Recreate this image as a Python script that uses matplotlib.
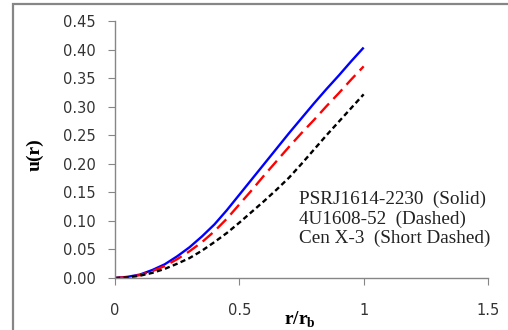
import numpy as np
import matplotlib
matplotlib.use('Agg')
import matplotlib.pyplot as plt
from matplotlib.patches import Rectangle

# values
r = [0.0, 0.05, 0.1, 0.15, 0.2, 0.25, 0.3, 0.35, 0.4, 0.45, 0.5,
     0.55, 0.6, 0.65, 0.7, 0.75, 0.8, 0.85, 0.9, 0.95, 1.0]
u_psr = [0.0, 0.002, 0.006, 0.014, 0.024, 0.038, 0.054, 0.073, 0.094, 0.119, 0.146,
         0.173, 0.200, 0.227, 0.254, 0.280, 0.306, 0.331, 0.355, 0.380, 0.404]
u_4u = [0.0, 0.0015, 0.005, 0.012, 0.021, 0.033, 0.047, 0.063, 0.082, 0.104, 0.129,
        0.154, 0.180, 0.205, 0.230, 0.254, 0.277, 0.301, 0.324, 0.348, 0.371]
u_cen = [0.0, 0.001, 0.004, 0.009, 0.016, 0.025, 0.035, 0.048, 0.063, 0.079, 0.097,
         0.116, 0.135, 0.155, 0.176, 0.200, 0.225, 0.250, 0.274, 0.298, 0.322]

xticks = [0, 0.5, 1, 1.5]
xticklabels = ['0', '0.5', '1', '1.5']
yticks = [0.0, 0.05, 0.10, 0.15, 0.20, 0.25, 0.30, 0.35, 0.40, 0.45]
legend_lines = ['PSRJ1614-2230  (Solid)', '4U1608-52  (Dashed)', 'Cen X-3  (Short Dashed)']

W, H = 508, 330
fig = plt.figure(figsize=(W / 100., H / 100.), dpi=100)
ax = fig.add_axes([115. / W, 52. / H, 373. / W, 256.7 / H])

gray = '#868686'
# outer chart border (cropped on the right and bottom)
fig.patches.append(Rectangle((13. / W, -0.2), 1.2, (H - 4.) / H + 0.2,
                             transform=fig.transFigure, fill=False,
                             edgecolor=gray, linewidth=1.6, clip_on=False))

ax.plot(r, u_psr, color='#0000ff', lw=1.7, solid_capstyle='butt')
ax.plot(r, u_4u, color='#ff0000', lw=1.7, dashes=(5.5, 2.7))
ax.plot(r, u_cen, color='#000000', lw=1.7, dashes=(2.2, 1.4))

ax.set_xlim(0, 1.5)
ax.set_ylim(0, 0.45)
ax.set_xticks(xticks)
ax.set_xticklabels(xticklabels)
ax.set_yticks(yticks)
ax.set_yticklabels(['%.2f' % v for v in yticks])

for s in ['top', 'right']:
    ax.spines[s].set_visible(False)
for s in ['left', 'bottom']:
    ax.spines[s].set_color(gray)
    ax.spines[s].set_linewidth(1.0)
ax.tick_params(axis='x', direction='out', length=5, color=gray, pad=13,
               labelsize=10.5, labelcolor='#333333')
ax.tick_params(axis='y', direction='out', length=5, color=gray, pad=9,
               labelsize=10.5, labelcolor='#333333')

serif = 'Liberation Serif'
fig.text(299. / W, 1 - 191. / H, '\n'.join(legend_lines),
         family=serif, fontsize=13.8, va='top', ha='left', linespacing=1.15,
         color='#222222')
fig.text(300. / W, 1 - 320. / H, r'r/r$_\mathregular{b}$', family=serif,
         fontweight='bold', fontsize=14, ha='center', va='center')
fig.text(35. / W, 1 - 155. / H, 'u(r)', family=serif, fontweight='bold',
         fontsize=14, rotation=90, ha='center', va='center')

plt.savefig('out.png', dpi=100)
